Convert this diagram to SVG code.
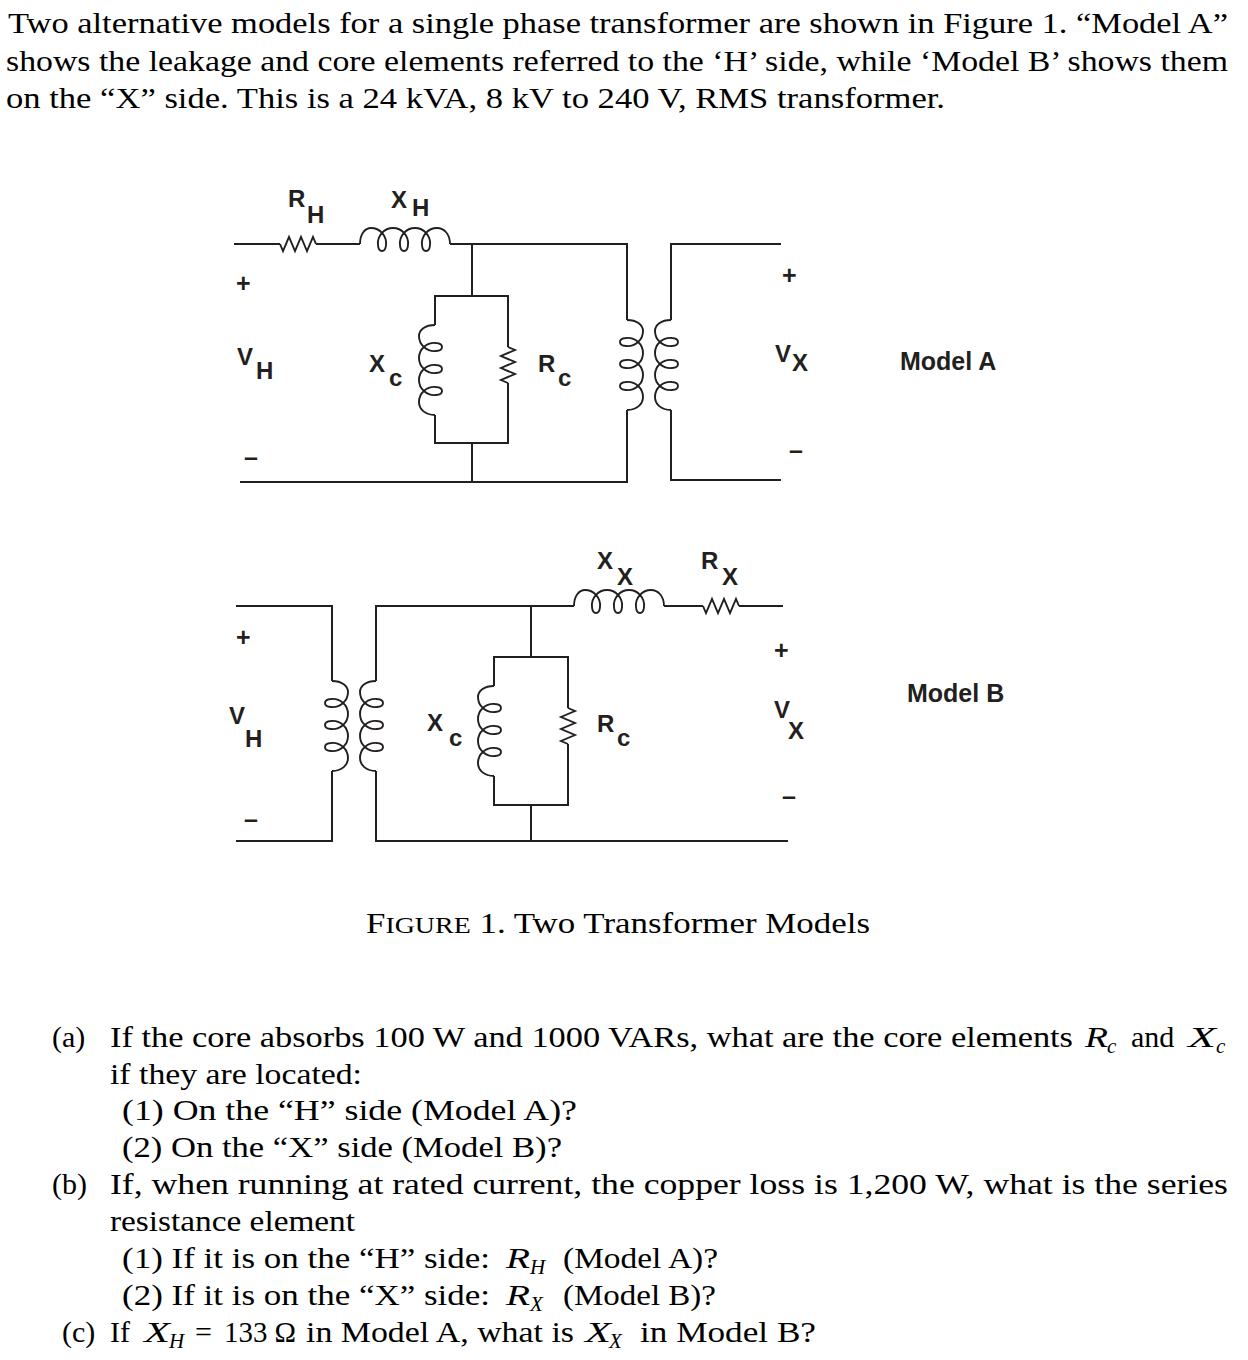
<svg xmlns="http://www.w3.org/2000/svg" xmlns:xlink="http://www.w3.org/1999/xlink" width="1248" height="1360" viewBox="0 0 1248 1360">
<style>
.w{fill:none;stroke:#231f20;stroke-width:2;stroke-linecap:butt;stroke-linejoin:miter}
.c{fill:none;stroke:#231f20;stroke-width:1.9}
.lbl{font-family:"Liberation Sans",Arial,sans-serif;font-weight:bold;font-size:24px;fill:#231f20}
.pm{font-family:"Liberation Sans",Arial,sans-serif;font-weight:bold;font-size:25px;fill:#231f20}
.mdl{font-family:"Liberation Sans",Arial,sans-serif;font-weight:bold;font-size:25px;fill:#231f20}
.tx{font-family:"Liberation Serif","Times New Roman",serif;font-size:30px;fill:#000}
.it{font-style:italic}
.sub{font-size:21px;font-style:italic}
</style>
<defs>
<path id="coil" d="M0,0 C0,-10 5,-16 11,-16 C20,-16 27,-8 26,1 C25.5,9 18.5,9 18,1 C17,-8 24,-16 33,-16 C42,-16 49,-8 48,1 C47.5,9 40.5,9 40,1 C39,-8 46,-16 55,-16 C64,-16 71,-8 70,1 C69.5,9 62.5,9 62,1 C61,-8 68,-16 77,-16 C84,-16 90,-10 90,0"/>
<path id="res" d="M0,0 L3,7 L9,-7 L15,7 L21,-7 L27,7 L33,-7 L36,0"/>
</defs>
<rect width="1248" height="1360" fill="#fff"/>

<g id="intro" class="tx">
<text x="8" y="33" textLength="1220" lengthAdjust="spacingAndGlyphs">Two alternative models for a single phase transformer are shown in Figure 1. “Model A”</text>
<text x="6" y="71" textLength="1222" lengthAdjust="spacingAndGlyphs">shows the leakage and core elements referred to the ‘H’ side, while ‘Model B’ shows them</text>
<text x="6" y="108" textLength="939" lengthAdjust="spacingAndGlyphs">on the “X” side. This is a 24 kVA, 8 kV to 240 V, RMS transformer.</text>
</g>

<g id="connectors">
<path class="w" d="M234,244 H280 M316,244 H360 M450,244 H627 V320 M627,410 V482 H240"/>
<path class="w" d="M472,244 V296 M435,325 V296 H508 V347 M508,383 V443 H435 V415 M472,443 V482"/>
<path class="w" d="M781,244 H671 V320 M671,410 V480 H781"/>
<path class="w" d="M236,606 H332 V681 M332,771 V841 H236"/>
<path class="w" d="M376,681 V606 H574 M664,606 H703 M739,606 H783"/>
<path class="w" d="M531,606 V657 M494,686 V657 H568 V708 M568,744 V805 H494 V776 M531,805 V841"/>
<path class="w" d="M376,771 V841 H788"/>
</g>

<g id="model-a">
<g id="RH"><use xlink:href="#res" href="#res" class="c" transform="translate(280,244)"/>
<text class="lbl" x="288" y="207">R</text><text class="lbl" x="307" y="223">H</text></g>
<g id="XH"><use xlink:href="#coil" href="#coil" class="c" transform="translate(360,244)"/>
<text class="lbl" x="391" y="208">X</text><text class="lbl" x="412" y="216">H</text></g>
<g id="Xc-A"><use xlink:href="#coil" href="#coil" class="c" transform="matrix(0 1 1 0 435 325)"/>
<text class="lbl" x="369" y="372">X</text><text class="lbl" x="389" y="386">c</text></g>
<g id="Rc-A"><use xlink:href="#res" href="#res" class="c" transform="matrix(0 1 1 0 508 347)"/>
<text class="lbl" x="538" y="372">R</text><text class="lbl" x="558" y="386">c</text></g>
<g id="T-A"><use xlink:href="#coil" href="#coil" class="c" transform="matrix(0 1 -1 0 627 320)"/>
<use xlink:href="#coil" href="#coil" class="c" transform="matrix(0 1 1 0 671 320)"/></g>
<g id="VH-A"><text class="pm" x="236" y="292">+</text>
<text class="lbl" x="237" y="365">V</text><text class="lbl" x="256" y="379">H</text>
<text class="pm" x="244" y="466">–</text></g>
<g id="VX-A"><text class="pm" x="782" y="284">+</text>
<text class="lbl" x="775" y="362">V</text><text class="lbl" x="792" y="371">X</text>
<text class="pm" x="789" y="459">–</text></g>
<text id="label-A" class="mdl" x="900" y="370">Model A</text>
</g>

<g id="model-b">
<g id="T-B"><use xlink:href="#coil" href="#coil" class="c" transform="matrix(0 1 -1 0 332 681)"/>
<use xlink:href="#coil" href="#coil" class="c" transform="matrix(0 1 1 0 376 681)"/></g>
<g id="Xc-B"><use xlink:href="#coil" href="#coil" class="c" transform="matrix(0 1 1 0 494 686)"/>
<text class="lbl" x="427" y="731">X</text><text class="lbl" x="449" y="746">c</text></g>
<g id="Rc-B"><use xlink:href="#res" href="#res" class="c" transform="matrix(0 1 1 0 568 708)"/>
<text class="lbl" x="597" y="732">R</text><text class="lbl" x="617" y="746">c</text></g>
<g id="XX"><use xlink:href="#coil" href="#coil" class="c" transform="translate(574,606)"/>
<text class="lbl" x="597" y="569">X</text><text class="lbl" x="617" y="585">X</text></g>
<g id="RX"><use xlink:href="#res" href="#res" class="c" transform="translate(703,606)"/>
<text class="lbl" x="701" y="569">R</text><text class="lbl" x="722" y="585">X</text></g>
<g id="VH-B"><text class="pm" x="236" y="646">+</text>
<text class="lbl" x="229" y="724">V</text><text class="lbl" x="245" y="747">H</text>
<text class="pm" x="244" y="828">–</text></g>
<g id="VX-B"><text class="pm" x="774" y="659">+</text>
<text class="lbl" x="774" y="718">V</text><text class="lbl" x="788" y="739">X</text>
<text class="pm" x="782" y="805">–</text></g>
<text id="label-B" class="mdl" x="907" y="702">Model B</text>
</g>

<text id="caption" class="tx" x="366" y="933" textLength="504" lengthAdjust="spacingAndGlyphs">F<tspan font-size="24">IGURE</tspan> 1.  Two Transformer Models</text>

<g id="questions" class="tx">
<text x="52" y="1047">(a)</text>
<text x="110" y="1047" textLength="963" lengthAdjust="spacingAndGlyphs">If the core absorbs 100 W and 1000 VARs, what are the core elements</text>
<text x="1085" y="1047" class="it" textLength="23" lengthAdjust="spacingAndGlyphs">R</text><text x="1107" y="1053" class="sub">c</text>
<text x="1131" y="1047">and</text>
<text x="1188" y="1047" class="it" textLength="28" lengthAdjust="spacingAndGlyphs">X</text><text x="1216" y="1053" class="sub">c</text>
<text x="110" y="1084" textLength="252" lengthAdjust="spacingAndGlyphs">if they are located:</text>
<text x="122" y="1120" textLength="455" lengthAdjust="spacingAndGlyphs">(1) On the “H” side (Model A)?</text>
<text x="122" y="1157" textLength="440" lengthAdjust="spacingAndGlyphs">(2) On the “X” side (Model B)?</text>
<text x="52" y="1194">(b)</text>
<text x="110" y="1194" textLength="1118" lengthAdjust="spacingAndGlyphs">If, when running at rated current, the copper loss is 1,200 W, what is the series</text>
<text x="110" y="1231" textLength="245" lengthAdjust="spacingAndGlyphs">resistance element</text>
<text x="122" y="1268" textLength="368" lengthAdjust="spacingAndGlyphs">(1) If it is on the “H” side:</text>
<text x="506" y="1268" class="it" textLength="24" lengthAdjust="spacingAndGlyphs">R</text><text x="530" y="1274" class="sub">H</text>
<text x="563" y="1268" textLength="155" lengthAdjust="spacingAndGlyphs">(Model A)?</text>
<text x="122" y="1305" textLength="368" lengthAdjust="spacingAndGlyphs">(2) If it is on the “X” side:</text>
<text x="506" y="1305" class="it" textLength="24" lengthAdjust="spacingAndGlyphs">R</text><text x="530" y="1311" class="sub">X</text>
<text x="563" y="1305" textLength="153" lengthAdjust="spacingAndGlyphs">(Model B)?</text>
<text x="62" y="1342">(c)</text>
<text x="110" y="1342">If</text>
<text x="144" y="1342" class="it" textLength="26" lengthAdjust="spacingAndGlyphs">X</text><text x="169" y="1348" class="sub">H</text>
<text x="195" y="1342">=</text>
<text x="224" y="1342" textLength="72" lengthAdjust="spacingAndGlyphs">133 Ω</text>
<text x="306" y="1342" textLength="268" lengthAdjust="spacingAndGlyphs">in Model A, what is</text>
<text x="585" y="1342" class="it" textLength="26" lengthAdjust="spacingAndGlyphs">X</text><text x="609" y="1348" class="sub">X</text>
<text x="640" y="1342" textLength="176" lengthAdjust="spacingAndGlyphs">in Model B?</text>
</g>
</svg>
